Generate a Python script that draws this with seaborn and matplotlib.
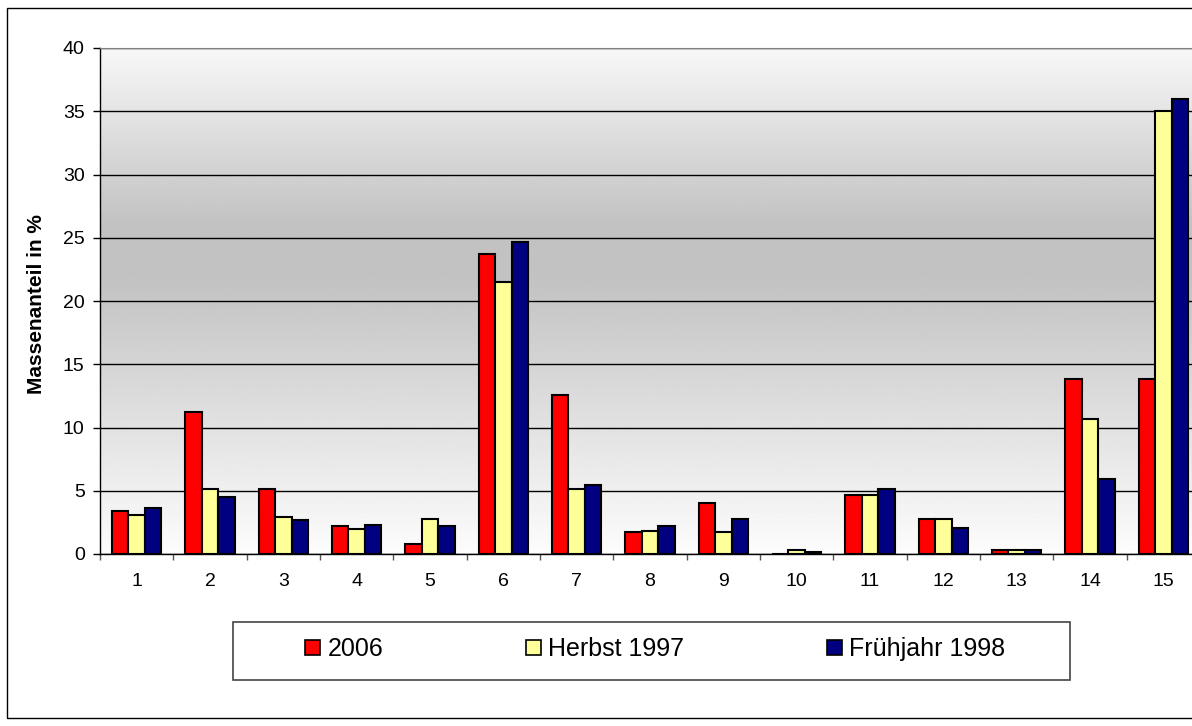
import numpy as np
import pandas as pd
import seaborn as sns
import matplotlib.pyplot as plt
from matplotlib.patches import Rectangle

# Daten
kategorien = [str(i) for i in range(1, 16)]
werte_2006 = [3.4, 11.2, 5.1, 2.2, 0.8, 23.7, 12.6, 1.7, 4.0, 0.0, 4.7, 2.8, 0.3, 13.8, 13.8]
werte_herbst_1997 = [3.1, 5.1, 2.95, 2.0, 2.8, 21.5, 5.1, 1.85, 1.7, 0.3, 4.7, 2.8, 0.3, 10.7, 35.0]
werte_fruehjahr_1998 = [3.6, 4.5, 2.65, 2.3, 2.2, 24.7, 5.45, 2.2, 2.8, 0.15, 5.15, 2.05, 0.3, 5.9, 36.0]
serien = ['2006', 'Herbst 1997', 'Frühjahr 1998']
farben = ['#ff0000', '#ffff99', '#000080']

df = pd.DataFrame({
    'Kategorie': kategorien * 3,
    'Wert': werte_2006 + werte_herbst_1997 + werte_fruehjahr_1998,
    'Serie': [serien[0]] * 15 + [serien[1]] * 15 + [serien[2]] * 15,
})

sns.set_style('white')
plt.rcParams['font.family'] = ['Liberation Sans', 'DejaVu Sans']
plt.rcParams['text.color'] = 'black'
plt.rcParams['xtick.color'] = 'black'
plt.rcParams['ytick.color'] = 'black'
plt.rcParams['axes.labelcolor'] = 'black'

fig = plt.figure(figsize=(11.92, 7.26), dpi=100)
ax = fig.add_axes([100 / 1192, 172 / 726, 1100 / 1192, 506 / 726])

# Hintergrund-Verlauf
yy = np.linspace(0, 1, 300)
grau = np.interp(yy, [0, 0.55, 0.65, 1], [0.99, 0.76, 0.76, 0.97])
bild = np.repeat(grau[:, None], 2, axis=1)
ax.imshow(bild, cmap='gray', vmin=0, vmax=1, origin='lower', aspect='auto',
          extent=(-0.5, 14.5, 0, 40), zorder=0)

sns.barplot(data=df, x='Kategorie', y='Wert', hue='Serie', palette=farben,
            saturation=1, width=0.67, edgecolor='black', linewidth=1.5, ax=ax,
            zorder=3, legend=False)

ax.set_xlim(-0.5, 14.5)
ax.set_ylim(0, 40)
ax.set_yticks(range(0, 41, 5))
ax.grid(axis='y', color='black', linewidth=1)
ax.set_axisbelow(True)
for gl in ax.get_ygridlines():
    gl.set_zorder(1)
ax.set_xlabel('')
ax.set_ylabel('Massenanteil in %', fontsize=15, fontweight='bold')
ax.yaxis.set_label_coords(-0.049, 0.493)

ax.tick_params(axis='y', which='major', direction='out', length=5, width=1,
               color='black', labelsize=14, left=True, pad=6)
ax.set_xticks(range(15))
ax.set_xticklabels(kategorien, fontsize=14)
ax.tick_params(axis='x', which='major', length=0, pad=14)
ax.set_xticks(np.arange(-0.5, 15, 1), minor=True)
ax.tick_params(axis='x', which='minor', direction='out', length=4.5, width=1,
               color='#555555', bottom=True)

for s in ['left', 'bottom']:
    ax.spines[s].set_color('black')
    ax.spines[s].set_linewidth(1)
ax.spines['top'].set_color('#808080')
ax.spines['right'].set_visible(False)

# Rahmen und Legende
fig.patches.append(Rectangle((7 / 1192, 8 / 726), 1.2, 710 / 726, transform=fig.transFigure,
                             fill=False, edgecolor='black', linewidth=1))
fig.patches.append(Rectangle((233 / 1192, 46 / 726), 837 / 1192, 58 / 726,
                             transform=fig.transFigure, fill=False,
                             edgecolor='#444444', linewidth=1.2))
handles = [Rectangle((0, 0), 1, 1, facecolor=c, edgecolor='black', linewidth=1.2) for c in farben]
fig.legend(handles, serien, loc='center', bbox_to_anchor=(655 / 1192, 77 / 726), ncol=3,
           frameon=False, fontsize=18, handlelength=0.6, handleheight=0.56,
           handletextpad=0.3, columnspacing=5.7)

plt.savefig('out.png', dpi=100)
